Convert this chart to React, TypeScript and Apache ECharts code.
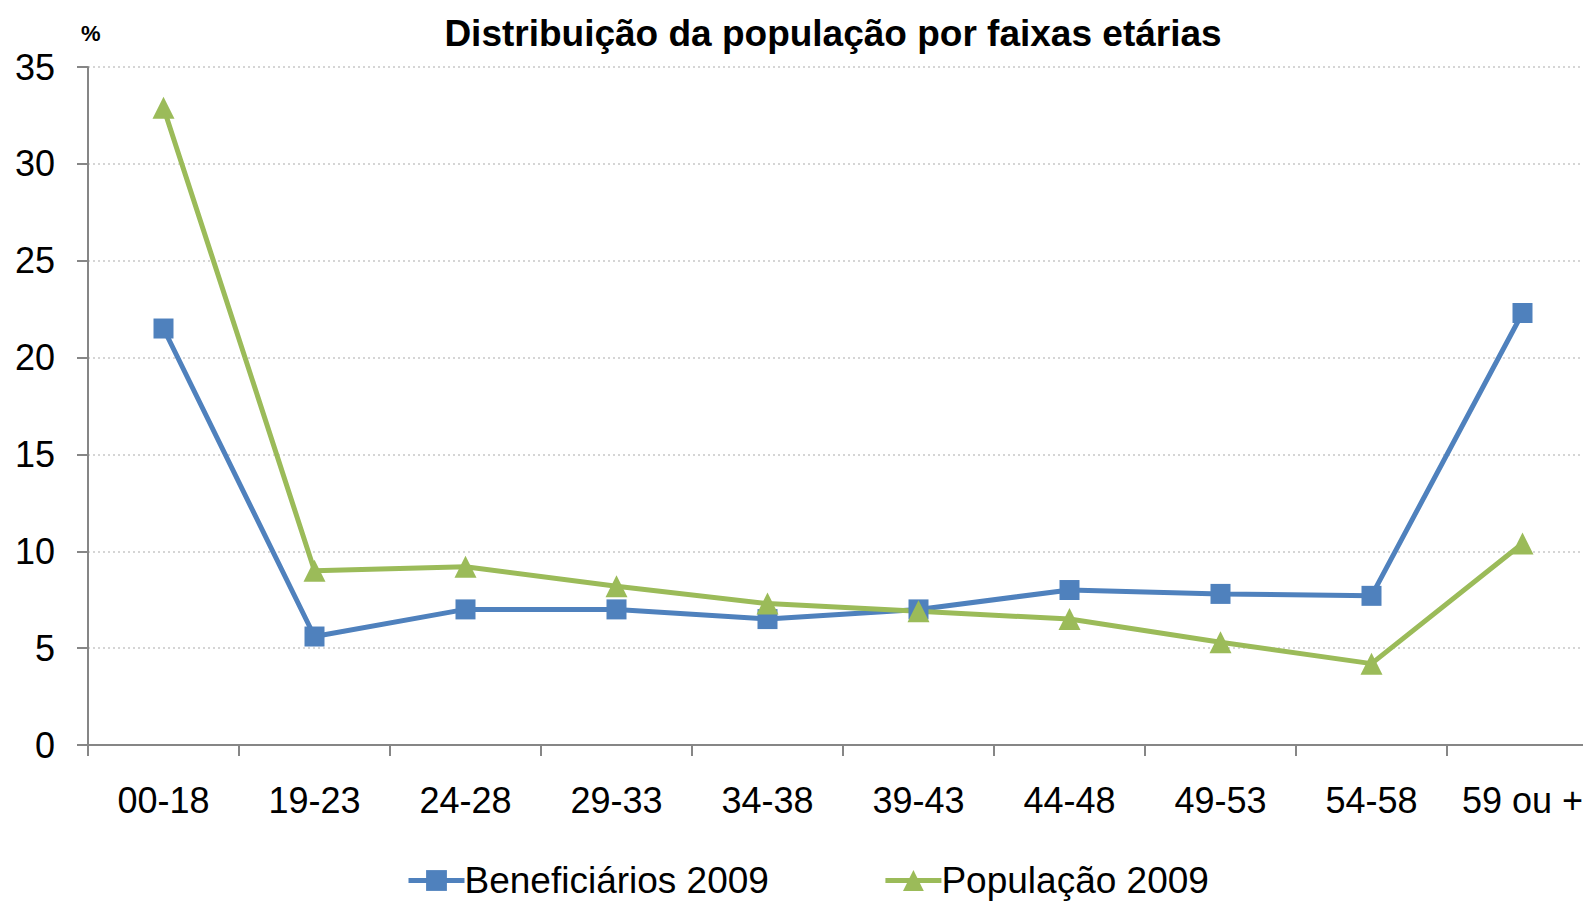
import React, { useEffect, useRef } from "react";
import * as echarts from "echarts";

const categories = ["00-18", "19-23", "24-28", "29-33", "34-38", "39-43", "44-48", "49-53", "54-58", "59 ou +"];
const beneficiarios = [21.5, 5.6, 7.0, 7.0, 6.5, 7.0, 8.0, 7.8, 7.7, 22.3];
const populacao = [32.9, 9.0, 9.2, 8.2, 7.3, 6.9, 6.5, 5.3, 4.2, 10.4];
const yTicks = { min: 0, max: 35, interval: 5 };

const FONT = "'Liberation Sans', Arial, sans-serif";
const BLUE = "#4F81BD";
const GREEN = "#9BBB59";

export default function App() {
  const ref = useRef<HTMLDivElement>(null);
  useEffect(() => {
    if (!ref.current) return;
    document.body.style.overflow = "hidden";
    const chart = echarts.init(ref.current, null, { renderer: "svg" });
    chart.setOption({
      animation: false,
      backgroundColor: "#ffffff",
      title: {
        text: "Distribuição da população por faixas etárias",
        left: 828,
        textAlign: "center",
        top: 10,
        textStyle: { fontFamily: FONT, fontWeight: "bold", fontSize: 37, color: "#000" },
      },
      graphic: [
        {
          type: "text",
          left: 81,
          top: 22,
          style: { text: "%", fontFamily: FONT, fontWeight: "bold", fontSize: 22, fill: "#000" },
        },
      ],
      legend: {
        left: 401,
        top: 857,
        itemWidth: 56,
        itemHeight: 26,
        itemGap: 114,
        lineStyle: { width: 5 },
        textStyle: { fontFamily: FONT, fontSize: 37, color: "#000", padding: [0, 0, 0, -5] },
        data: ["Beneficiários 2009", "População 2009"],
      },
      grid: { left: 88, right: 22, top: 67, bottom: 156, containLabel: false },
      xAxis: {
        type: "category",
        data: categories,
        boundaryGap: true,
        axisLine: { lineStyle: { color: "#868686", width: 2 } },
        axisTick: { show: true, length: 11, lineStyle: { color: "#868686", width: 2 } },
        axisLabel: { fontFamily: FONT, fontSize: 36, color: "#000", margin: 37, interval: 0 },
      },
      yAxis: {
        type: "value",
        min: yTicks.min,
        max: yTicks.max,
        interval: yTicks.interval,
        axisLine: { show: true, lineStyle: { color: "#868686", width: 2 } },
        axisTick: { show: true, length: 11, lineStyle: { color: "#868686", width: 2 } },
        axisLabel: { fontFamily: FONT, fontSize: 36, color: "#000", margin: 33 },
        splitLine: { show: true, lineStyle: { color: "#c8c8c8", type: [2, 3], width: 1.5 } },
      },
      series: [
        {
          name: "Beneficiários 2009",
          type: "line",
          data: beneficiarios,
          symbol: "rect",
          symbolSize: 20,
          color: BLUE,
          lineStyle: { width: 5, color: BLUE },
          itemStyle: { color: BLUE },
        },
        {
          name: "População 2009",
          type: "line",
          data: populacao,
          symbol: "triangle",
          symbolSize: 22,
          color: GREEN,
          lineStyle: { width: 5, color: GREEN },
          itemStyle: { color: GREEN },
        },
      ],
    });
    return () => chart.dispose();
  }, []);
  return (
    <div
      ref={ref}
      style={{ position: "fixed", left: 0, top: 0, width: 1620, height: 901, background: "#fff" }}
    />
  );
}
